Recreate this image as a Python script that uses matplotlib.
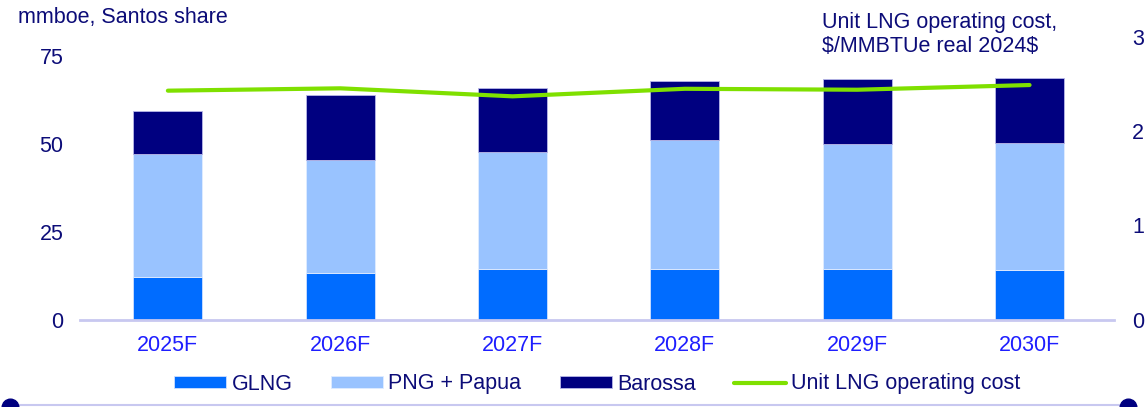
import matplotlib
matplotlib.use("Agg")
import matplotlib.pyplot as plt
from matplotlib.lines import Line2D
import numpy as np

plt.rcParams['font.family'] = ['Liberation Sans', 'DejaVu Sans']

# values (mmboe, Santos share)
years = ['2025F', '2026F', '2027F', '2028F', '2029F', '2030F']
glng = [12.0, 13.1, 14.3, 14.5, 14.5, 14.0]
png_papua = [35.0, 32.3, 33.3, 36.5, 35.5, 36.3]
barossa = [12.4, 18.4, 18.4, 16.9, 18.5, 18.5]
# unit LNG operating cost, $/MMBTUe real 2024$
unit_cost = [2.43, 2.455, 2.37, 2.45, 2.44, 2.49]

c_glng = '#006cff'
c_png = '#99c3ff'
c_bar = '#000080'
c_line = '#7fe000'
navy_txt = '#0c0c78'
tick_blue = '#1e1eff'
axis_col = '#c8c8f0'

fig = plt.figure(figsize=(11.45, 4.07), dpi=100)
ax = fig.add_axes([80 / 1145, 1 - 319.5 / 407, (1114 - 80) / 1145, 282.5 / 407])
ax2 = ax.twinx()

x = np.arange(len(years))
w = 0.4
bottom2 = np.array(glng) + np.array(png_papua)
ax.bar(x, glng, w, color=c_glng, edgecolor='#cfe0ff', linewidth=0.6, label='GLNG', zorder=2)
ax.bar(x, png_papua, w, bottom=glng, color=c_png, edgecolor='#e0ecff', linewidth=0.6,
       label='PNG + Papua', zorder=2)
ax.bar(x, barossa, w, bottom=bottom2, color=c_bar, edgecolor='#b8b8e8', linewidth=0.6,
       label='Barossa', zorder=2)
ax2.plot(x, unit_cost, color=c_line, linewidth=3, solid_capstyle='round',
         label='Unit LNG operating cost')

ax.set_xlim(-0.51, 5.49)
ax.set_ylim(0, 80.4)
ax2.set_ylim(0, 3)
ax.set_yticks([0, 25, 50, 75])
ax2.set_yticks([0, 1, 2, 3])
ax.set_xticks(x)
ax.set_xticklabels(years)

for a in (ax, ax2):
    for s in a.spines.values():
        s.set_visible(False)
ax.spines['bottom'].set_visible(True)
ax.spines['bottom'].set_color(axis_col)
ax.spines['bottom'].set_linewidth(2)

ax.tick_params(axis='x', length=0, pad=11, labelsize=15.5, labelcolor=tick_blue)
ax.tick_params(axis='y', length=0, pad=12, labelsize=15.5, labelcolor=navy_txt)
ax2.tick_params(axis='y', length=0, pad=13, labelsize=15.5, labelcolor=navy_txt)

fig.text(18 / 1145, 1 - 17 / 407, 'mmboe, Santos share', fontsize=15.5, color=navy_txt,
         ha='left', va='center')
fig.text(822 / 1145, 1 - 34.5 / 407, 'Unit LNG operating cost,\n\\$/MMBTUe real 2024\\$',
         fontsize=15.5, color=navy_txt, ha='left', va='center', linespacing=1.15)

h1, l1 = ax.get_legend_handles_labels()
h2, l2 = ax2.get_legend_handles_labels()
fig.legend(h1 + h2, l1 + l2, loc='center', bbox_to_anchor=(597.5 / 1145, 1 - 384 / 407),
           ncol=4, frameon=False, fontsize=15.5, labelcolor=navy_txt,
           handlelength=2.4, handleheight=0.5, handletextpad=0.25, columnspacing=1.8)

# decorative rule along the bottom edge
fig.add_artist(Line2D([10 / 1145, 1128 / 1145], [1 - 404.5 / 407, 1 - 404.5 / 407],
                      transform=fig.transFigure, color=axis_col, linewidth=1.5))
fig.add_artist(Line2D([10 / 1145, 1128 / 1145], [1 - 407 / 407, 1 - 407 / 407],
                      transform=fig.transFigure, color=c_bar, linestyle='none',
                      marker='o', markersize=12, clip_on=False))

fig.savefig('out.png', dpi=100)
